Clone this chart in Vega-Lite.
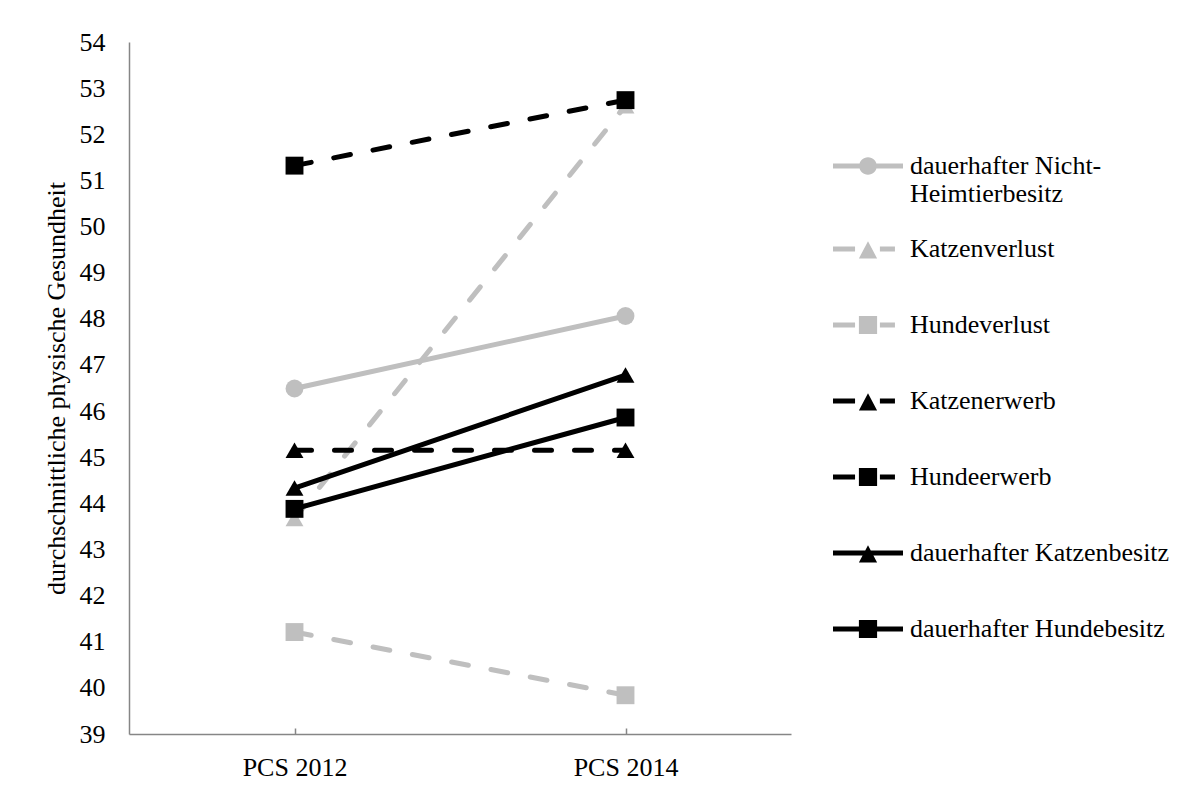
{
  "$schema": "https://vega.github.io/schema/vega-lite/v6.json",
  "width": 662,
  "height": 692,
  "autosize": "none",
  "padding": {"left": 129, "top": 42, "right": 400, "bottom": 58},
  "background": "white",
  "data": {
    "values": [
      {"reihe": "dauerhafter Nicht-Heimtierbesitz", "linie": "durchgezogen", "zeit": "PCS 2012", "wert": 46.49},
      {"reihe": "dauerhafter Nicht-Heimtierbesitz", "linie": "durchgezogen", "zeit": "PCS 2014", "wert": 48.06},
      {"reihe": "Katzenverlust", "linie": "gestrichelt", "zeit": "PCS 2012", "wert": 43.67},
      {"reihe": "Katzenverlust", "linie": "gestrichelt", "zeit": "PCS 2014", "wert": 52.62},
      {"reihe": "Hundeverlust", "linie": "gestrichelt", "zeit": "PCS 2012", "wert": 41.21},
      {"reihe": "Hundeverlust", "linie": "gestrichelt", "zeit": "PCS 2014", "wert": 39.84},
      {"reihe": "Katzenerwerb", "linie": "gestrichelt", "zeit": "PCS 2012", "wert": 45.15},
      {"reihe": "Katzenerwerb", "linie": "gestrichelt", "zeit": "PCS 2014", "wert": 45.15},
      {"reihe": "Hundeerwerb", "linie": "gestrichelt", "zeit": "PCS 2012", "wert": 51.32},
      {"reihe": "Hundeerwerb", "linie": "gestrichelt", "zeit": "PCS 2014", "wert": 52.74},
      {"reihe": "dauerhafter Katzenbesitz", "linie": "durchgezogen", "zeit": "PCS 2012", "wert": 44.33},
      {"reihe": "dauerhafter Katzenbesitz", "linie": "durchgezogen", "zeit": "PCS 2014", "wert": 46.78},
      {"reihe": "dauerhafter Hundebesitz", "linie": "durchgezogen", "zeit": "PCS 2012", "wert": 43.88},
      {"reihe": "dauerhafter Hundebesitz", "linie": "durchgezogen", "zeit": "PCS 2014", "wert": 45.86}
    ]
  },
  "encoding": {
    "x": {
      "field": "zeit",
      "type": "nominal",
      "sort": ["PCS 2012", "PCS 2014"],
      "scale": {"type": "point", "padding": 0.5},
      "axis": {
        "title": null,
        "labelAngle": 0,
        "ticks": true,
        "tickSize": -6,
        "tickColor": "#868686",
        "tickWidth": 1.5,
        "domainColor": "#868686",
        "domainWidth": 1.5,
        "grid": false,
        "labelFontSize": 26,
        "labelColor": "black",
        "labelPadding": 26
      }
    },
    "y": {
      "field": "wert",
      "type": "quantitative",
      "scale": {"domain": [39, 54], "nice": false, "zero": false},
      "axis": {
        "title": "durchschnittliche physische Gesundheit",
        "values": [39, 40, 41, 42, 43, 44, 45, 46, 47, 48, 49, 50, 51, 52, 53, 54],
        "ticks": false,
        "grid": false,
        "domainColor": "#868686",
        "domainWidth": 1.5,
        "labelFontSize": 26,
        "labelColor": "black",
        "labelPadding": 24,
        "titleFontSize": 26,
        "titleFontWeight": "normal",
        "titleColor": "black",
        "titlePadding": 10
      }
    },
    "color": {
      "field": "reihe",
      "type": "nominal",
      "scale": {
        "domain": ["dauerhafter Nicht-Heimtierbesitz", "Katzenverlust", "Hundeverlust", "Katzenerwerb", "Hundeerwerb", "dauerhafter Katzenbesitz", "dauerhafter Hundebesitz"],
        "range": ["#BFBFBF", "#BFBFBF", "#BFBFBF", "black", "black", "black", "black"]
      },
      "legend": {
        "labelExpr": "datum.value == 'dauerhafter Nicht-Heimtierbesitz' ? ['dauerhafter Nicht-', 'Heimtierbesitz'] : datum.label",
        "encode": {
          "symbols": {
            "update": {
              "strokeWidth": {"value": 0},
              "size": {"value": 4900},
              "opacity": {"value": 1},
              "shape": {"signal": "'M0,-0.97Z M0,0.97Z ' + (datum.value == 'dauerhafter Nicht-Heimtierbesitz' ? 'M-1,-0.07L1,-0.07L1,0.07L-1,0.07Z M-0.25,0A0.25,0.25 0 1,1 0.25,0A0.25,0.25 0 1,1 -0.25,0Z' : (datum.value == 'Katzenverlust' || datum.value == 'Katzenerwerb') ? 'M-1,-0.07L-0.37,-0.07L-0.37,0.07L-1,0.07Z M0.34,-0.07L0.77,-0.07L0.77,0.07L0.34,0.07Z M0,-0.22L0.26,0.27L-0.26,0.27Z' : (datum.value == 'Hundeverlust' || datum.value == 'Hundeerwerb') ? 'M-1,-0.07L-0.37,-0.07L-0.37,0.07L-1,0.07Z M0.34,-0.07L0.77,-0.07L0.77,0.07L0.34,0.07Z M-0.26,-0.26L0.26,-0.26L0.26,0.26L-0.26,0.26Z' : datum.value == 'dauerhafter Katzenbesitz' ? 'M-1,-0.07L1,-0.07L1,0.07L-1,0.07Z M0,-0.22L0.26,0.27L-0.26,0.27Z' : 'M-1,-0.07L1,-0.07L1,0.07L-1,0.07Z M-0.26,-0.26L0.26,-0.26L0.26,0.26L-0.26,0.26Z')"}
            }
          }
        }
      }
    }
  },
  "layer": [
    {
      "transform": [{"filter": "datum.linie == 'gestrichelt'"}],
      "mark": {"type": "line", "strokeWidth": 5, "strokeCap": "round", "strokeDash": [17, 23]}
    },
    {
      "transform": [{"filter": "datum.linie == 'durchgezogen'"}],
      "mark": {"type": "line", "strokeWidth": 5, "strokeCap": "round"}
    },
    {
      "mark": {"type": "point", "filled": true, "opacity": 1, "strokeWidth": 0, "size": 320},
      "encoding": {
        "shape": {
          "field": "reihe",
          "type": "nominal",
          "scale": {
            "domain": ["Hundeerwerb", "Hundeverlust", "Katzenerwerb", "Katzenverlust", "dauerhafter Hundebesitz", "dauerhafter Katzenbesitz", "dauerhafter Nicht-Heimtierbesitz"],
            "range": ["square", "square", "triangle-up", "triangle-up", "square", "triangle-up", "circle"]
          },
          "legend": null
        }
      }
    }
  ],
  "config": {
    "font": "Liberation Serif",
    "view": {"stroke": null},
    "legend": {
      "title": null,
      "orient": "none",
      "legendX": 704,
      "legendY": 89,
      "padding": 0,
      "symbolSize": 4900,
      "symbolStrokeWidth": 0,
      "symbolOpacity": 1,
      "rowPadding": 7,
      "labelOffset": 7,
      "labelFontSize": 26,
      "labelColor": "black",
      "labelLimit": 400
    }
  }
}
